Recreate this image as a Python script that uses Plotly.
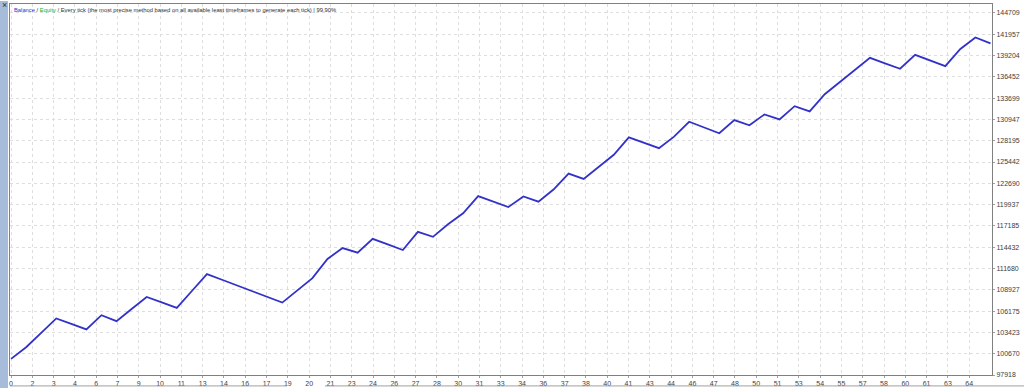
import numpy as np
import plotly.graph_objects as go

# ---- data ----
trades = list(range(66))
balance = [100000, 101508, 103367, 105225, 104520, 103815, 105648, 104879, 106443, 108007,
           107302, 106597, 108777, 110956, 110225, 109482, 108751, 108007, 107277, 108853,
           110443, 112918, 114328, 113725, 115520, 114802, 114071, 116417, 115776, 117404,
           118815, 121032, 120327, 119622, 120994, 120315, 121891, 123943, 123263, 124802,
           126378, 128622, 127930, 127237, 128724, 130647, 129904, 129160, 130865, 130186,
           131596, 130955, 132660, 131981, 134199, 135775, 137340, 138904, 138198, 137493,
           139288, 138557, 137827, 140057, 141544, 140775]

y_ticks = [97918, 100670, 103423, 106175, 108927, 111680, 114432, 117185, 119937,
           122690, 125442, 128195, 130947, 133699, 136452, 139204, 141957, 144709]

x_labels = ["0", "2", "3", "4", "6", "7", "9", "10", "11", "13", "14", "16", "17", "19",
            "20", "21", "23", "24", "26", "27", "28", "30", "31", "33", "34", "36", "37",
            "38", "40", "41", "43", "44", "46", "47", "48", "50", "51", "53", "54", "55",
            "57", "58", "60", "61", "63", "64"]
GRID_STEP = 1.413  # trades per vertical grid cell

# ---- layout constants ----
W, H = 1024, 390
ML, MR, MT, MB = 10, 32, 3, 13
PW, PH = W - ML - MR, H - MT - MB


def px_x(p):
    return (p - ML) / PW


def px_y(p):
    return (H - MB - p) / PH


xt = [i * GRID_STEP for i in range(len(x_labels))]

fig = go.Figure(go.Scatter(x=trades, y=balance, mode="lines",
                           line=dict(color="#3232c8", width=1.8),
                           hoverinfo="skip"))

font_fam = "Liberation Sans, Arial, sans-serif"
fig.update_layout(
    width=W, height=H,
    margin=dict(l=ML, r=MR, t=MT, b=MB, pad=0),
    paper_bgcolor="white", plot_bgcolor="white",
    showlegend=False,
    font=dict(family=font_fam, size=7, color="#404040"),
)

axis_common = dict(showgrid=True, gridcolor="#dedede", griddash="dot", gridwidth=1,
                   showline=True, linecolor="#808080", linewidth=1, mirror=True,
                   ticks="outside", ticklen=2, tickcolor="#a0a0a0", zeroline=False,
                   tickfont=dict(family=font_fam, size=7, color="#404040"))

fig.update_xaxes(range=[-0.07, 65.1], tickvals=xt, ticktext=x_labels, **axis_common)
fig.update_yaxes(side="right", range=[97918, 145865], tickvals=y_ticks,
                 ticktext=[str(v) for v in y_ticks], **axis_common)

title = ("<span style='color:#3030d0'>Balance</span> / "
         "<span style='color:#20b020'>Equity</span> / Every tick (the most precise method "
         "based on all available least timeframes to generate each tick) | 99.90%")
fig.add_annotation(text=title, xref="paper", yref="paper", x=px_x(12), y=px_y(4),
                   xanchor="left", yanchor="top", showarrow=False,
                   font=dict(family=font_fam, size=5.8, color="#303030"))

# left side strip
fig.add_shape(type="rect", xref="paper", yref="paper", x0=px_x(0), x1=px_x(8),
              y0=px_y(H), y1=px_y(0), fillcolor="#a6bcda", line=dict(width=0), layer="above")
fig.add_annotation(text="×", xref="paper", yref="paper", x=px_x(4), y=px_y(4),
                   xanchor="center", yanchor="middle", showarrow=False,
                   font=dict(family=font_fam, size=9, color="#303030"))

# bottom bar lines
for a, b in [(10, 287), (325, 1024)]:
    fig.add_shape(type="line", xref="paper", yref="paper", x0=px_x(a), x1=px_x(b),
                  y0=px_y(388), y1=px_y(388), line=dict(color="#a0a0a0", width=1))

fig.write_html("out.html", config={"displayModeBar": False})
